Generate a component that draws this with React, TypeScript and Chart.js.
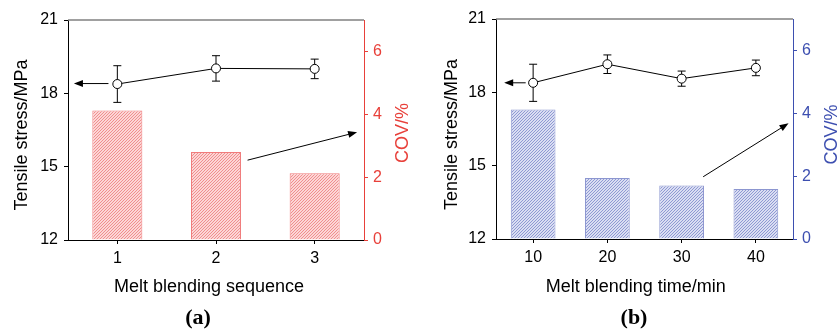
import { useEffect, useRef } from 'react';
import { Chart, registerables } from 'chart.js';
Chart.register(...registerables);

const FONT = "'Liberation Sans', Arial, Helvetica, sans-serif";
const SERIF = "'Liberation Serif', 'Times New Roman', serif";

// Panel (a): melt blending sequence
const seqCategories = ['1', '2', '3'];
const seqStress = [18.38, 19.02, 19.0];
const seqStressErr = [0.75, 0.52, 0.4];
const seqCov = [4.12, 2.8, 2.12];
const seqArrowLeft = [-0.09, 18.4, -0.44, 18.4]; // x index, stress
const seqArrowRight = [1.32, 2.54, 2.43, 3.43]; // x index, COV

// Panel (b): melt blending time
const timeCategories = ['10', '20', '30', '40'];
const timeStress = [18.39, 19.15, 18.56, 19.0];
const timeStressErr = [0.76, 0.38, 0.31, 0.32];
const timeCov = [4.12, 1.94, 1.7, 1.59];
const timeArrowLeft = [-0.1, 18.39, -0.39, 18.39];
const timeArrowRight = [2.29, 1.98, 3.44, 3.68];

const stressTicks = [12, 15, 18, 21];
const covTicks = [0, 2, 4, 6];

const RED = '#e8403a';
const BLUE = '#3d4fb0';

function hatch(bg: string, fg: string) {
  const c = document.createElement('canvas');
  c.width = 3;
  c.height = 3;
  const g = c.getContext('2d')!;
  g.fillStyle = bg;
  g.fillRect(0, 0, 3, 3);
  g.fillStyle = fg;
  // diagonal "/" stripes, one pixel per row
  g.fillRect(2, 0, 1, 1);
  g.fillRect(1, 1, 1, 1);
  g.fillRect(0, 2, 1, 1);
  return g.createPattern(c, 'repeat')!;
}

function drawArrow(ctx: CanvasRenderingContext2D, x0: number, y0: number, x1: number, y1: number) {
  const a = Math.atan2(y1 - y0, x1 - x0);
  const L = 9, W = 3.5;
  const cos = Math.cos(a), sin = Math.sin(a);
  ctx.save();
  ctx.strokeStyle = '#000';
  ctx.fillStyle = '#000';
  ctx.lineWidth = 1;
  ctx.beginPath();
  ctx.moveTo(x0, y0);
  ctx.lineTo(x1 - L * cos * 0.7, y1 - L * sin * 0.7);
  ctx.stroke();
  ctx.beginPath();
  ctx.moveTo(x1, y1);
  ctx.lineTo(x1 - L * cos + W * sin, y1 - L * sin - W * cos);
  ctx.lineTo(x1 - L * cos - W * sin, y1 - L * sin + W * cos);
  ctx.closePath();
  ctx.fill();
  ctx.restore();
}

type PanelCfg = {
  left: number;
  categories: string[];
  stress: number[];
  err: number[];
  cov: number[];
  arrowL: number[];
  arrowR: number[];
  color: string;
  bg: string;
  fg: string;
  border: string;
  barPct: number;
  padTop: number;
  lw: number;
  rw: number;
  xh: number;
  xTitle: string;
  label: string;
  yTitleX: number;
  yTitleY: number;
  rTitleX: number;
  rTitleY: number;
  xTitleX: number;
  labelX: number;
};

function Panel({ cfg }: { cfg: PanelCfg }) {
  const ref = useRef<HTMLCanvasElement>(null);
  useEffect(() => {
    const canvas = ref.current!;
    const pattern = hatch(cfg.bg, cfg.fg);
    const deco = {
      id: 'deco',
      beforeDatasetsDraw(chart: any) {
        const ctx = chart.ctx as CanvasRenderingContext2D;
        const meta = chart.getDatasetMeta(1);
        const ys = chart.scales.y;
        ctx.save();
        ctx.strokeStyle = '#000';
        ctx.lineWidth = 1;
        meta.data.forEach((pt: any, i: number) => {
          const x = pt.x;
          const yt = ys.getPixelForValue(cfg.stress[i] + cfg.err[i]);
          const yb = ys.getPixelForValue(cfg.stress[i] - cfg.err[i]);
          ctx.beginPath();
          ctx.moveTo(x, yt);
          ctx.lineTo(x, yb);
          ctx.moveTo(x - 4, yt);
          ctx.lineTo(x + 4, yt);
          ctx.moveTo(x - 4, yb);
          ctx.lineTo(x + 4, yb);
          ctx.stroke();
        });
        ctx.restore();
      },
      afterDraw(chart: any) {
        const ctx = chart.ctx as CanvasRenderingContext2D;
        const { left, right, top } = chart.chartArea;
        const xs = chart.scales.x, ys = chart.scales.y, y1 = chart.scales.y1;
        ctx.save();
        ctx.strokeStyle = '#808080';
        ctx.lineWidth = 1.5;
        ctx.beginPath();
        ctx.moveTo(left, top);
        ctx.lineTo(right, top);
        ctx.stroke();
        ctx.restore();

        const aL = cfg.arrowL;
        drawArrow(ctx, xs.getPixelForValue(aL[0]), ys.getPixelForValue(aL[1]), xs.getPixelForValue(aL[2]), ys.getPixelForValue(aL[3]));
        const aR = cfg.arrowR;
        drawArrow(ctx, xs.getPixelForValue(aR[0]), y1.getPixelForValue(aR[1]), xs.getPixelForValue(aR[2]), y1.getPixelForValue(aR[3]));

        ctx.save();
        ctx.textAlign = 'center';
        ctx.textBaseline = 'alphabetic';
        ctx.font = `18px ${FONT}`;
        ctx.fillStyle = '#000';
        ctx.save();
        ctx.translate(cfg.yTitleX, cfg.yTitleY);
        ctx.rotate(-Math.PI / 2);
        ctx.fillText('Tensile stress/MPa', 0, 0);
        ctx.restore();
        ctx.save();
        ctx.fillStyle = cfg.color;
        ctx.translate(cfg.rTitleX, cfg.rTitleY);
        ctx.rotate(-Math.PI / 2);
        ctx.fillText('COV/%', 0, 0);
        ctx.restore();
        ctx.fillText(cfg.xTitle, cfg.xTitleX, 291.5);
        ctx.font = `bold 22px ${SERIF}`;
        ctx.fillText(cfg.label, cfg.labelX, 324);
        ctx.restore();
      },
    };
    const chart = new Chart(canvas, {
      type: 'bar',
      data: {
        labels: cfg.categories,
        datasets: [
          {
            type: 'bar',
            data: cfg.cov,
            yAxisID: 'y1',
            backgroundColor: pattern as any,
            borderColor: cfg.border,
            borderWidth: 1,
            barPercentage: cfg.barPct,
            categoryPercentage: 1,
            order: 2,
          } as any,
          {
            type: 'line',
            data: cfg.stress,
            yAxisID: 'y',
            borderColor: '#000',
            borderWidth: 1,
            pointRadius: 4.5,
            pointBackgroundColor: '#fff',
            pointBorderColor: '#000',
            pointBorderWidth: 1,
            order: 1,
          } as any,
        ],
      },
      options: {
        responsive: false,
        animation: false,
        layout: { padding: { top: cfg.padTop, left: 0, right: 0, bottom: 0 } },
        plugins: { legend: { display: false }, tooltip: { enabled: false } },
        scales: {
          x: {
            type: 'category',
            offset: true,
            grid: { drawOnChartArea: false, drawTicks: true, tickLength: 4, color: '#000', offset: false },
            border: { color: '#000', width: 1 },
            ticks: { color: '#000', font: { family: FONT, size: 16 }, padding: 5, maxRotation: 0 },
            afterFit: (s: any) => { s.height = cfg.xh; },
          },
          y: {
            position: 'left',
            min: 12,
            max: 21,
            afterBuildTicks: (s: any) => { s.ticks = stressTicks.map((v) => ({ value: v })); },
            grid: { drawOnChartArea: false, drawTicks: true, tickLength: 4, color: '#000' },
            border: { color: '#000', width: 1 },
            ticks: { color: '#000', font: { family: FONT, size: 16 }, padding: 6 },
            afterFit: (s: any) => { s.width = cfg.lw; },
          },
          y1: {
            position: 'right',
            min: 0,
            max: 7,
            afterBuildTicks: (s: any) => { s.ticks = covTicks.map((v) => ({ value: v })); },
            grid: { drawOnChartArea: false, drawTicks: true, tickLength: 4, color: cfg.color },
            border: { color: cfg.color, width: 1 },
            ticks: { color: cfg.color, font: { family: FONT, size: 16 }, padding: 5 },
            afterFit: (s: any) => { s.width = cfg.rw; },
          },
        },
      } as any,
      plugins: [deco],
    });
    return () => chart.destroy();
  }, []);
  return (
    <canvas
      ref={ref}
      width={420}
      height={329}
      style={{ position: 'absolute', left: cfg.left, top: 0, width: 420, height: 329 }}
    />
  );
}

const panelA: PanelCfg = {
  left: 0,
  categories: seqCategories,
  stress: seqStress,
  err: seqStressErr,
  cov: seqCov,
  arrowL: seqArrowLeft,
  arrowR: seqArrowRight,
  color: RED,
  bg: '#fcd6d6',
  fg: '#f08e8e',
  border: '#f07c7c',
  barPct: 0.507,
  padTop: 20,
  lw: 68,
  rw: 56,
  xh: 89,
  xTitle: 'Melt blending sequence',
  label: '(a)',
  yTitleX: 27,
  yTitleY: 135,
  rTitleX: 408,
  rTitleY: 133,
  xTitleX: 209,
  labelX: 198,
};

const panelB: PanelCfg = {
  left: 420,
  categories: timeCategories,
  stress: timeStress,
  err: timeStressErr,
  cov: timeCov,
  arrowL: timeArrowLeft,
  arrowR: timeArrowRight,
  color: BLUE,
  bg: '#dadef2',
  fg: '#8f99d3',
  border: '#8c96d0',
  barPct: 0.602,
  padTop: 19,
  lw: 76,
  rw: 47,
  xh: 90,
  xTitle: 'Melt blending time/min',
  label: '(b)',
  yTitleX: 36.5,
  yTitleY: 134.5,
  rTitleX: 416.5,
  rTitleY: 134.5,
  xTitleX: 215.8,
  labelX: 214,
};

export default function App() {
  return (
    <div style={{ position: 'absolute', left: 0, top: 0, width: 840, height: 329, background: '#fff' }}>
      <Panel cfg={panelA} />
      <Panel cfg={panelB} />
    </div>
  );
}
